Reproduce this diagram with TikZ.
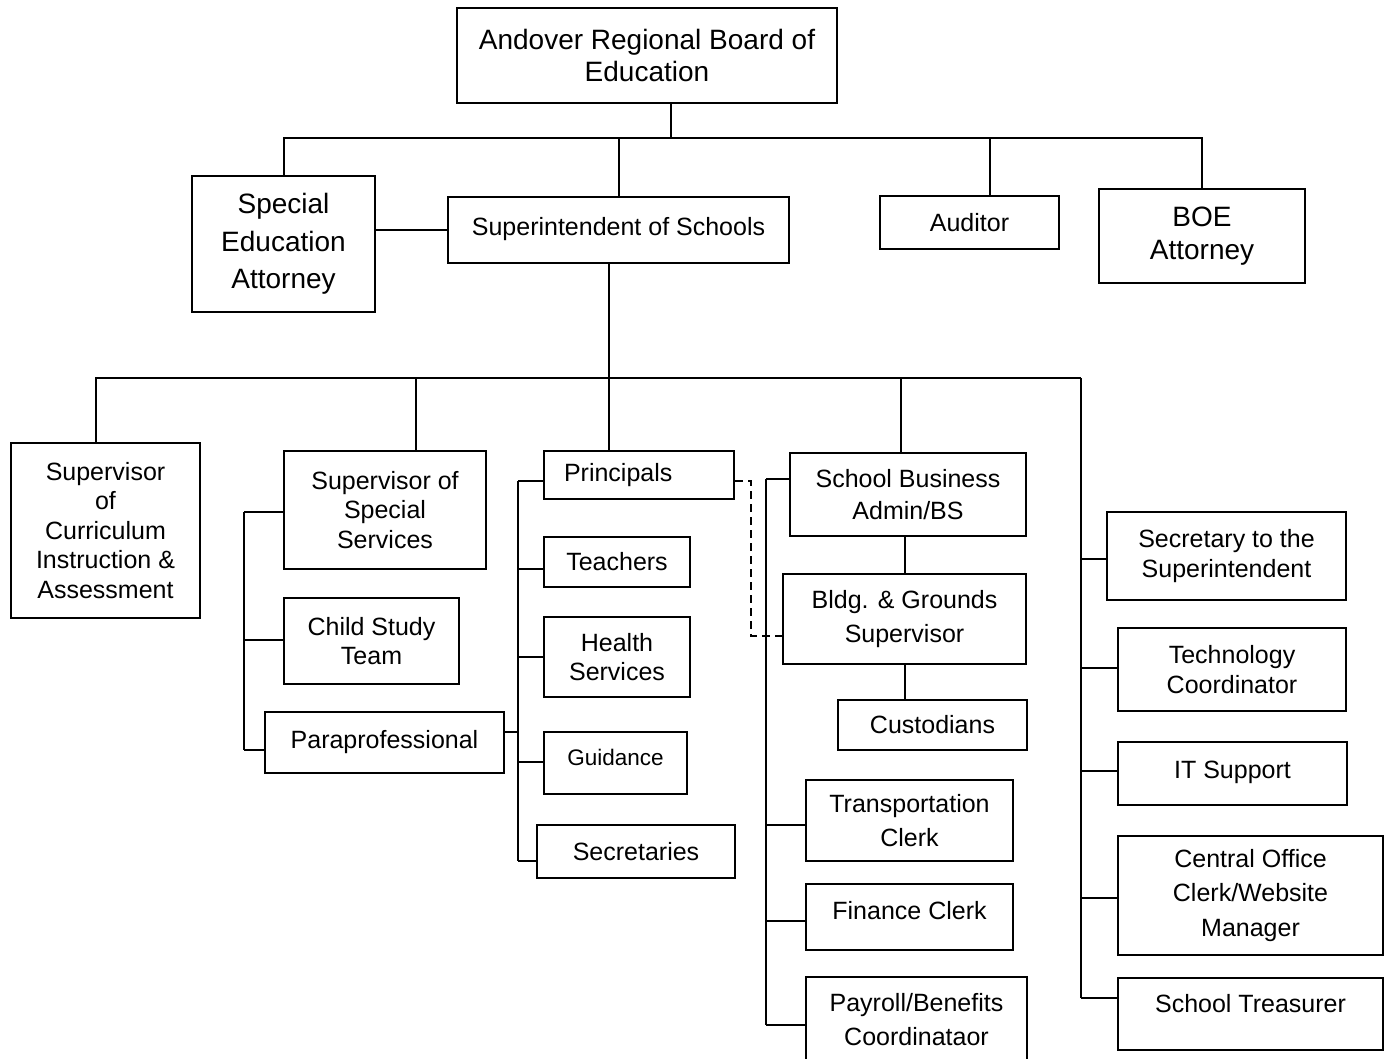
\documentclass[tikz,border=0pt]{standalone}
\usepackage{fontspec}
\setmainfont{Liberation Sans}
\tikzset{
  box/.style={draw, line width=2.2pt, align=center, inner sep=0pt, font=\fontsize{25}{29.5}\selectfont},
  big/.style={font=\fontsize{28}{34}\selectfont},
  wide/.style={font=\fontsize{25}{34}\selectfont},
  raised/.style={text height=18pt, text depth=#1},
  wire/.style={line width=2pt},
}
\begin{document}
\begin{tikzpicture}[x=1pt, y=-1pt]
  \useasboundingbox (0,0) rectangle (1394,1058);

  % board level
  \node[box, big, font=\fontsize{28}{32}\selectfont, minimum width=380pt, minimum height=95pt] (board) at (647,55.5) {Andover Regional Board of\\Education};
  \node[box, big, font=\fontsize{28}{37.5}\selectfont, minimum width=183pt, minimum height=136pt] (sea) at (283.5,244) {Special\\Education\\Attorney};
  \node[box, raised=8pt, minimum width=341pt, minimum height=66pt] (supt) at (618.5,230) {Superintendent of Schools};
  \node[box, minimum width=179pt, minimum height=53pt] (auditor) at (969.5,222.5) {Auditor};
  \node[box, big, font=\fontsize{28}{33}\selectfont, minimum width=206pt, minimum height=94pt] (boe) at (1202,236) {BOE\\Attorney};

  % under the superintendent
  \node[box, minimum width=189pt, minimum height=175pt] (curric) at (105.5,530.5) {Supervisor\\of\\Curriculum\\Instruction \&\\Assessment};
  \node[box, minimum width=202pt, minimum height=118pt] (specserv) at (385,510) {Supervisor of\\Special\\Services};
  \node[box, minimum width=175pt, minimum height=86pt] (cst) at (371.5,641) {Child Study\\Team};
  \node[box, minimum width=239pt, minimum height=61pt] (para) at (384.5,742.5) {Paraprofessional};

  \node[box, text width=150pt, align=left, inner xsep=20pt, minimum height=48pt] (principals) at (639,475) {Principals};
  \node[box, minimum width=146pt, minimum height=50pt] (teachers) at (617,562) {Teachers};
  \node[box, minimum width=146pt, minimum height=80pt] (health) at (617,657) {Health\\Services};
  \node[box, raised=14pt, font=\fontsize{22.5}{27}\selectfont, minimum width=143pt, minimum height=62pt] (guidance) at (615.5,763) {Guidance};
  \node[box, minimum width=198pt, minimum height=53pt] (secretaries) at (636,851.5) {Secretaries};

  \node[box, wide, font=\fontsize{25}{32}\selectfont, minimum width=236pt, minimum height=83pt] (sba) at (908,494.5) {School Business\\Admin/BS};
  \node[box, wide, minimum width=243pt, minimum height=90pt] (bldg) at (904.5,619) {Bldg. \& Grounds\\Supervisor};
  \node[box, minimum width=189pt, minimum height=50pt] (cust) at (932.5,725) {Custodians};
  \node[box, wide, minimum width=207pt, minimum height=81pt] (transp) at (909.5,820.5) {Transportation\\Clerk};
  \node[box, raised=14pt, minimum width=207pt, minimum height=66pt] (finance) at (909.5,917) {Finance Clerk};
  \node[box, wide, minimum width=221pt, minimum height=86pt] (payroll) at (916.5,1020) {Payroll/Benefits\\Coordinataor};

  \node[box, minimum width=239pt, minimum height=88pt] (sec) at (1226.5,556) {Secretary to the\\Superintendent};
  \node[box, minimum width=228pt, minimum height=83pt] (tech) at (1232,669.5) {Technology\\Coordinator};
  \node[box, raised=9pt, minimum width=229pt, minimum height=63pt] (it) at (1232.5,773.5) {IT Support};
  \node[box, font=\fontsize{25}{34.5}\selectfont, minimum width=265pt, minimum height=119pt] (central) at (1250.5,895.5) {Central Office\\Clerk/Website\\Manager};
  \node[box, raised=22pt, minimum width=265pt, minimum height=72pt] (treas) at (1250.5,1014) {School Treasurer};

  % top bus
  \coordinate (bus1) at (671,138);
  \draw[wire] (board.south -| bus1) -- (bus1);
  \draw[wire] (sea.north) |- (boe.north |- bus1) -- (boe.north);
  \draw[wire] (supt.north) -- (supt.north |- bus1);
  \coordinate (adrop) at (990,138);
  \draw[wire] (adrop) -- (adrop |- auditor.north);
  \draw[wire] (supt.west) -- (supt.west -| sea.east);

  % second bus
  \coordinate (bus2) at (609,378);
  \coordinate (bus2w) at (96,378);
  \coordinate (bus2e) at (1081,378);
  \draw[wire] (supt.south -| bus2) -- (bus2);
  \draw[wire] (bus2w |- curric.north) -- (bus2w) -- (bus2e);
  \foreach \x/\n in {416/specserv, 609/principals, 901/sba} {
    \coordinate (d) at (\x,378);
    \draw[wire] (d) -- (d |- \n.north);
  }

  % special services spine
  \coordinate (s1) at (244,512);
  \coordinate (s2) at (244,750);
  \draw[wire] (s1) -- (s2);
  \foreach \y/\n in {512/specserv, 640/cst, 750/para} {
    \coordinate (j) at (244,\y);
    \draw[wire] (j) -- (j -| \n.west);
  }

  % principals spine
  \coordinate (p1) at (518,481);
  \coordinate (p2) at (518,861);
  \draw[wire] (p1) -- (p2);
  \foreach \y/\n in {481/principals, 569/teachers, 657/health, 762/guidance, 861/secretaries} {
    \coordinate (j) at (518,\y);
    \draw[wire] (j) -- (j -| \n.west);
  }
  \coordinate (p3) at (518,732);
  \draw[wire] (p3) -- (p3 -| para.east);

  % dotted link
  \coordinate (k1) at (751,481);
  \coordinate (k2) at (751,636);
  \draw[wire, dash pattern=on 8pt off 5pt] (k1 -| principals.east) -- (k1) -- (k2) -- (k2 -| bldg.west);

  % business spine
  \coordinate (m1) at (766,479);
  \coordinate (m2) at (766,1025);
  \draw[wire] (m1) -- (m2);
  \foreach \y/\n in {479/sba, 825/transp, 921/finance, 1025/payroll} {
    \coordinate (j) at (766,\y);
    \draw[wire] (j) -- (j -| \n.west);
  }
  \draw[wire] (bldg.north) -- (bldg.north |- sba.south);
  \draw[wire] (bldg.south) -- (bldg.south |- cust.north);

  % right spine
  \coordinate (r1) at (1081,998);
  \draw[wire] (bus2e) -- (r1);
  \foreach \y/\n in {559/sec, 668/tech, 771/it, 898/central, 998/treas} {
    \coordinate (j) at (1081,\y);
    \draw[wire] (j) -- (j -| \n.west);
  }
\end{tikzpicture}
\end{document}
